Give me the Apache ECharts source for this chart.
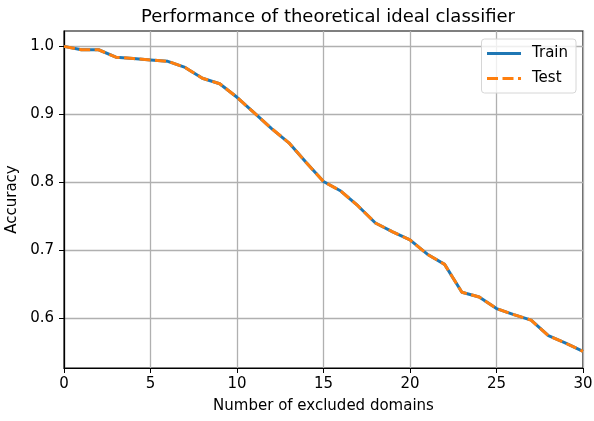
<!DOCTYPE html>
<html>
<head>
<meta charset="utf-8">
<script src="https://cdn.jsdelivr.net/npm/echarts@6/dist/echarts.min.js"></script>
<style>
  html, body { margin: 0; padding: 0; background: #fff; }
  #chart { width: 594px; height: 421px; }
</style>
</head>
<body>
<div id="chart"></div>
<script>
// number of excluded domains (0..30)
const excluded = [0, 1, 2, 3, 4, 5, 6, 7, 8, 9, 10, 11, 12, 13, 14, 15,
  16, 17, 18, 19, 20, 21, 22, 23, 24, 25, 26, 27, 28, 29, 30]

const trainAcc = [1.000, 0.995, 0.995, 0.984, 0.982, 0.980, 0.978, 0.969, 0.953, 0.945,
  0.925, 0.902, 0.879, 0.858, 0.829, 0.801, 0.787, 0.765, 0.740, 0.727,
  0.715, 0.694, 0.679, 0.638, 0.631, 0.614, 0.605, 0.597, 0.574, 0.563, 0.551]

const testAcc = [1.000, 0.995, 0.995, 0.984, 0.982, 0.980, 0.978, 0.969, 0.953, 0.945,
  0.925, 0.902, 0.879, 0.858, 0.829, 0.801, 0.787, 0.765, 0.740, 0.727,
  0.715, 0.694, 0.679, 0.638, 0.631, 0.614, 0.605, 0.597, 0.574, 0.563, 0.551]

const yTicks = [0.6, 0.7, 0.8, 0.9, 1.0]

const font = 'DejaVu Sans'
const chart = echarts.init(document.getElementById('chart'))

const toPairs = (vals) => vals.map((v, i) => [excluded[i], v])

chart.setOption({
  animation: false,
  textStyle: { fontFamily: font },
  title: {
    text: 'Performance of theoretical ideal classifier',
    left: 323,
    textAlign: 'center',
    top: 3,
    textStyle: { fontFamily: font, fontSize: 18, fontWeight: 'normal', color: '#000' }
  },
  grid: {
    left: 64, right: 11, top: 31, bottom: 53,
    outerBoundsMode: 'none',
    containLabel: false,
    show: true, borderColor: '#000', borderWidth: 1.2
  },
  legend: {
    orient: 'vertical',
    right: 18,
    top: 39,
    itemWidth: 34,
    itemHeight: 10,
    itemGap: 10,
    padding: [7, 8, 7, 4],
    borderColor: '#d6d6d6',
    borderWidth: 1,
    borderRadius: 3,
    backgroundColor: 'rgba(255,255,255,0.8)',
    itemStyle: { opacity: 0 },
    lineStyle: { width: 3 },
    textStyle: { fontFamily: font, fontSize: 15, color: '#000', padding: [0, 0, 0, 6] },
    data: ['Train', 'Test']
  },
  xAxis: {
    type: 'value',
    min: 0, max: 30, interval: 5,
    name: 'Number of excluded domains',
    nameLocation: 'middle',
    nameGap: 31,
    nameTextStyle: { fontFamily: font, fontSize: 15, color: '#000' },
    axisLine: { show: true, lineStyle: { color: '#000', width: 1.2 } },
    axisTick: { show: true, length: 5, lineStyle: { color: '#000' } },
    axisLabel: { fontFamily: font, fontSize: 15, color: '#000', margin: 9 },
    splitLine: { show: true, lineStyle: { color: '#b0b0b0', width: 1.3 } }
  },
  yAxis: {
    type: 'value',
    min: 0.5265, max: 1.0226,
    name: 'Accuracy',
    nameLocation: 'middle',
    nameGap: 39,
    nameTextStyle: { fontFamily: font, fontSize: 15, color: '#000' },
    axisLine: { show: true, lineStyle: { color: '#000', width: 1.2 } },
    axisTick: { show: true, length: 5, lineStyle: { color: '#000' }, customValues: yTicks },
    axisLabel: {
      fontFamily: font, fontSize: 15, color: '#000', margin: 10,
      customValues: yTicks,
      formatter: (v) => v.toFixed(1)
    },
    splitLine: { show: true, lineStyle: { color: '#b0b0b0', width: 1.3 } }
  },
  series: [
    {
      name: 'Train',
      type: 'line',
      data: toPairs(trainAcc),
      symbol: 'none',
      lineStyle: { color: '#1f77b4', width: 3 },
      itemStyle: { color: '#1f77b4' }
    },
    {
      name: 'Test',
      type: 'line',
      data: toPairs(testAcc),
      symbol: 'none',
      lineStyle: { color: '#ff7f0e', width: 3, type: [11, 4.5] },
      itemStyle: { color: '#ff7f0e' }
    }
  ]
})
</script>
</body>
</html>
